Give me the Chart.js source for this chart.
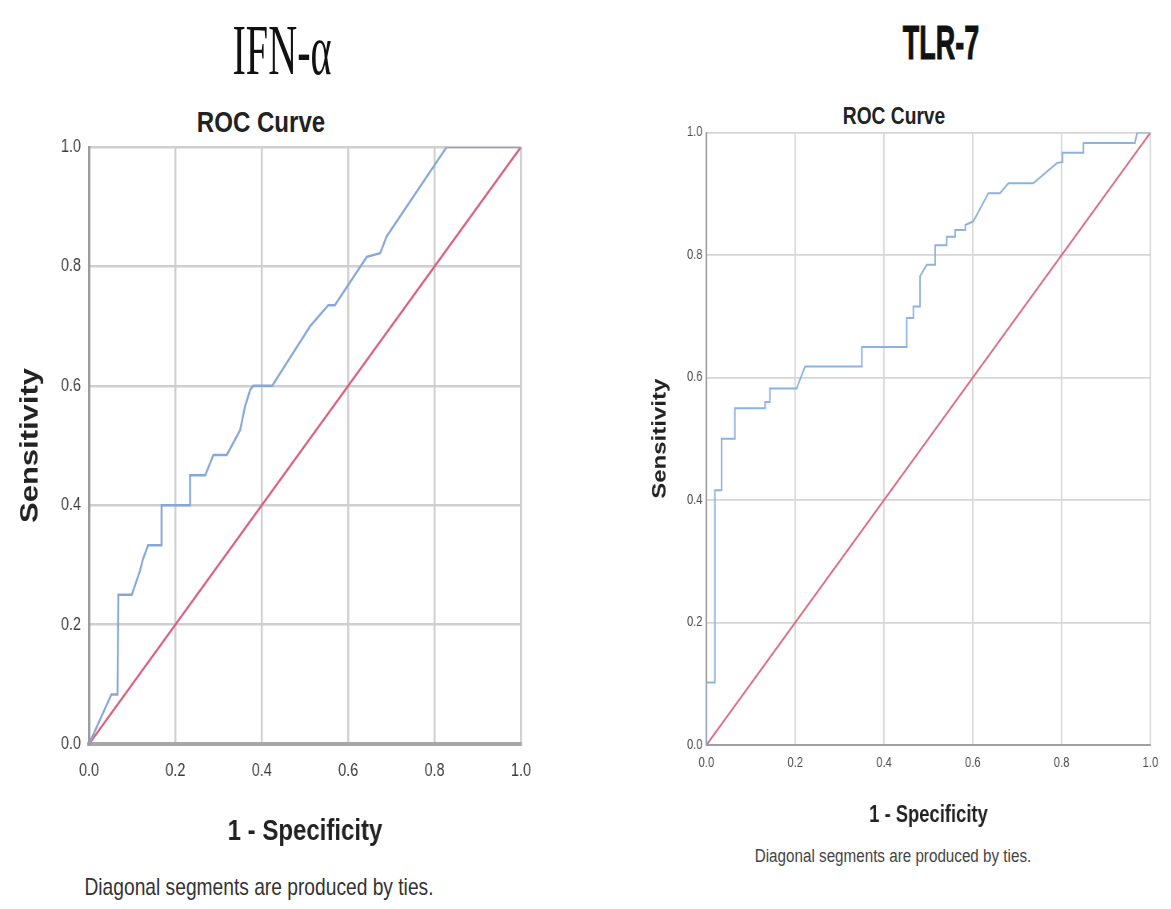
<!DOCTYPE html>
<html><head><meta charset="utf-8">
<script src="https://cdn.jsdelivr.net/npm/chart.js@4"></script>
<style>
html,body{margin:0;padding:0;background:#fff;width:1171px;height:909px;overflow:hidden;position:relative;font-family:"Liberation Sans",Arial,sans-serif;}
.wrap{position:absolute;transform-origin:0 0;}
.txt{position:absolute;white-space:nowrap;line-height:1;transform-origin:50% 0;}
</style></head><body>
<div class="txt" style="left:282px;top:15px;font-family:'Liberation Serif',serif;font-size:71px;color:#111;transform:translateX(-50%) scaleX(0.565);">IFN-α</div>
<div class="txt" style="left:941px;top:18px;font-weight:bold;font-size:49px;color:#111;transform:translateX(-50%) scaleX(0.55);-webkit-text-stroke:1px #111;">TLR-7</div>
<div class="txt" style="left:261px;top:108px;font-weight:bold;font-size:29px;color:#222;transform:translateX(-50%) scaleX(0.83);">ROC Curve</div>
<div class="txt" style="left:894px;top:104px;font-weight:bold;font-size:24px;color:#222;transform:translateX(-50%) scaleX(0.8);">ROC Curve</div>
<div class="txt" style="left:259px;top:875px;font-size:24px;color:#333;transform:translateX(-50%) scaleX(0.8);">Diagonal segments are produced by ties.</div>
<div class="txt" style="left:893px;top:847px;font-size:18px;color:#444;transform:translateX(-50%) scaleX(0.845);">Diagonal segments are produced by ties.</div>

<div class="wrap" style="left:0px;top:100px;transform:scaleX(0.8);"><canvas id="cL" width="750" height="800"></canvas></div>
<div class="wrap" style="left:600px;top:90px;transform:scaleX(0.8);"><canvas id="cR" width="714" height="810"></canvas></div>

<script>
// ---- data ----
const tickValues = [0, 0.2, 0.4, 0.6, 0.8, 1.0];
const refX = [0, 1];
const refY = [0, 1];

// IFN-alpha ROC curve (1 - specificity, sensitivity)
const ifnFpr = [0, 0.052, 0.066, 0.068, 0.099, 0.118, 0.125, 0.137, 0.168, 0.168, 0.234, 0.234, 0.269, 0.288, 0.319, 0.350, 0.361, 0.373, 0.380, 0.424, 0.512, 0.554, 0.569, 0.643, 0.674, 0.689, 0.828, 1.0];
const ifnTpr = [0, 0.083, 0.083, 0.250, 0.250, 0.290, 0.310, 0.333, 0.333, 0.400, 0.400, 0.450, 0.450, 0.484, 0.484, 0.526, 0.565, 0.593, 0.600, 0.600, 0.700, 0.735, 0.735, 0.816, 0.822, 0.850, 1.0, 1.0];

// TLR-7 ROC curve
const tlrFpr = [0, 0, 0.019, 0.019, 0.034, 0.034, 0.064, 0.064, 0.132, 0.132, 0.143, 0.143, 0.203, 0.222, 0.350, 0.350, 0.451, 0.451, 0.466, 0.466, 0.481, 0.481, 0.496, 0.515, 0.515, 0.541, 0.541, 0.560, 0.560, 0.583, 0.583, 0.601, 0.635, 0.661, 0.680, 0.736, 0.789, 0.802, 0.802, 0.849, 0.849, 0.965, 0.970, 1.0];
const tlrTpr = [0, 0.102, 0.102, 0.416, 0.416, 0.500, 0.500, 0.550, 0.550, 0.560, 0.560, 0.582, 0.582, 0.618, 0.618, 0.650, 0.650, 0.697, 0.697, 0.716, 0.716, 0.765, 0.784, 0.784, 0.816, 0.816, 0.830, 0.830, 0.841, 0.841, 0.849, 0.855, 0.901, 0.901, 0.917, 0.917, 0.950, 0.952, 0.967, 0.967, 0.983, 0.983, 1.0, 1.0];

const xTitle = '1 - Specificity';
const yTitle = 'Sensitivity';

function zip(xs, ys){ return xs.map((x,i)=>({x:x, y:ys[i]})); }

function build(c){
  return new Chart(document.getElementById(c.id), {
    type: 'scatter',
    data: { datasets: [
      { data: zip(c.fpr, c.tpr), showLine: true, borderColor: c.blue, borderWidth: c.lw, pointRadius: 0, tension: 0 },
      { data: zip(refX, refY), showLine: true, borderColor: c.red, borderWidth: c.lw, pointRadius: 0 }
    ]},
    options: {
      responsive: false, animation: false, events: [],
      layout: { padding: { left: 0, right: c.padR, top: c.padT, bottom: 0 } },
      plugins: { legend: { display: false }, tooltip: { enabled: false }, title: { display: false } },
      scales: {
        x: {
          type: 'linear', min: 0, max: 1,
          afterBuildTicks: s => { s.ticks = tickValues.map(v => ({ value: v })); },
          afterFit: s => { s.height = c.xH; },
          grid: { color: c.grid, lineWidth: c.glw, drawTicks: false },
          border: { color: c.axisB, width: c.axisBW },
          ticks: { padding: c.xTickPad, font: { family: 'Liberation Sans', size: c.tickSize }, color: c.tickColor, maxRotation: 0, autoSkip: false, callback: v => Number(v).toFixed(1) },
          title: { display: true, text: xTitle, color: '#222', font: { family: 'Liberation Sans', size: c.titleSize, weight: 'bold', lineHeight: 1.2 }, padding: { top: 0, bottom: c.xTitlePad } }
        },
        y: {
          type: 'linear', min: 0, max: 1,
          afterBuildTicks: s => { s.ticks = tickValues.map(v => ({ value: v })); },
          afterFit: s => { s.width = c.yW; },
          grid: { color: c.grid, lineWidth: c.glw, drawTicks: false },
          border: { color: c.axisL, width: c.axisLW },
          ticks: { padding: c.yTickPad, font: { family: 'Liberation Sans', size: c.tickSize }, color: c.tickColor, autoSkip: false, callback: v => Number(v).toFixed(1) },
          title: { display: true, text: yTitle, color: '#222', font: { family: 'Liberation Sans', size: c.yTitleSize, weight: 'bold', lineHeight: 1.2 }, padding: { top: c.yTitlePad, bottom: 0 } }
        }
      }
    }
  });
}

build({ id: 'cL', fpr: ifnFpr, tpr: ifnTpr, blue: '#86a8d6', red: '#d9607c', lw: 2.5,
  padR: 98.75, padT: 47, xH: 156, yW: 111.25,
  grid: '#cfcfcf', glw: 2.5, axisB: '#a8a8a8', axisBW: 4, axisL: '#9c9c9c', axisLW: 3,
  xTickPad: 16, yTickPad: 10, tickSize: 18, tickColor: '#3c3c3c',
  titleSize: 30, yTitleSize: 31, xTitlePad: 50, yTitlePad: 20 });

build({ id: 'cR', fpr: tlrFpr, tpr: tlrTpr, blue: '#8db2de', red: '#d96a82', lw: 2,
  padR: 25.9, padT: 42.5, xH: 155, yW: 133.1,
  grid: '#d6d6d6', glw: 1.8, axisB: '#a0a0a0', axisBW: 2, axisL: '#999999', axisLW: 2,
  xTickPad: 10, yTickPad: 5, tickSize: 14, tickColor: '#4c4c4c',
  titleSize: 23, yTitleSize: 24, xTitlePad: 71, yTitlePad: 60.6 });
</script>
</body></html>
